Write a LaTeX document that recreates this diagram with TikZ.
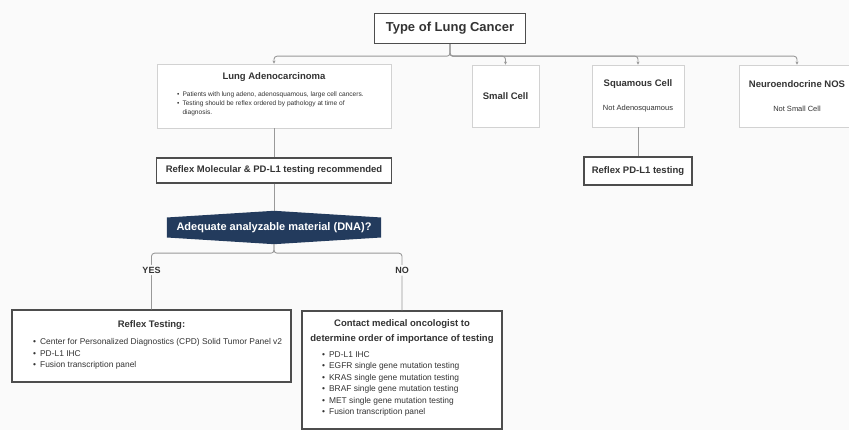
\documentclass[tikz,border=0pt]{standalone}
\usepackage{fontspec}
\setmainfont{Liberation Sans}
\usetikzlibrary{arrows.meta,backgrounds}

\definecolor{inkgray}{HTML}{333333}
\definecolor{linegray}{HTML}{999999}
\definecolor{lightedge}{HTML}{D2D2D2}
\definecolor{darkedge}{HTML}{4D4D4D}
\definecolor{navy}{HTML}{233B5D}
\definecolor{paper}{HTML}{FAFAFA}

\tikzset{
    lightbox/.style={draw=lightedge, fill=white, line width=0.8pt},
    darkbox/.style={draw=darkedge, fill=white, line width=1.4pt},
    title/.style={font=\bfseries\fontsize{9.5}{12}\selectfont, text=inkgray, inner sep=0pt},
    sub/.style={font=\fontsize{7.5}{9}\selectfont, text=inkgray, inner sep=0pt},
    bullets/.style={align=left, text=inkgray, inner sep=0pt, anchor=north west},
    conn/.style={draw=linegray, line width=0.9pt, rounded corners=3pt},
    tick/.style={-{Stealth[length=3pt,width=3pt]}},
    answer/.style={font=\bfseries\fontsize{9}{11}\selectfont, text=inkgray, fill=paper, inner sep=2pt}
}

\begin{document}
\begin{tikzpicture}[x=1pt,y=1pt]
    \useasboundingbox (0,0) rectangle (849,430);

    %Top Box
    \node[darkbox, minimum width=151, minimum height=30, font=\bfseries\fontsize{13}{15}\selectfont, text=inkgray] (type) at (450,401.5) {Type of Lung Cancer};

    %Histology Boxes
    \node[lightbox, minimum width=234, minimum height=64] (adeno) at (274,334) {};
    \node[lightbox, minimum width=67, minimum height=62] (small) at (505.5,334) {};
    \node[lightbox, minimum width=92, minimum height=62] (squam) at (638,334) {};
    \node[lightbox, minimum width=116, minimum height=62] (neuro) at (797,334) {};

    \node[title] (adenot) at (274,353) {Lung Adenocarcinoma};
    \node[bullets, font=\fontsize{6.6}{9}\selectfont] (adenol) at (177,338.5) {\textbullet\hspace{3pt}Patients with lung adeno, adenosquamous, large cell cancers.\\
        \textbullet\hspace{3pt}Testing should be reflex ordered by pathology at time of\\
        \hphantom{\textbullet\hspace{3pt}}diagnosis.};
    \node[title] (smallt) at (small) {Small Cell};
    \node[title] (squamt) at (638,346) {Squamous Cell};
    \node[sub] (squams) at (638,321) {Not Adenosquamous};
    \node[title] (neurot) at (797,346) {Neuroendocrine NOS};
    \node[sub] (neuros) at (797,321) {Not Small Cell};

    %Testing Boxes
    \node[darkbox, title, minimum width=235, minimum height=25] (molec) at (274,259.5) {Reflex Molecular \& PD-L1 testing recommended};
    \node[darkbox, title, minimum width=108, minimum height=28] (reflexpd) at (638,259) {Reflex PD-L1 testing};

    %Question
    \node[title, text=white, font=\bfseries\fontsize{11}{13}\selectfont, minimum width=214, minimum height=33] (dna) at (274,202.5) {Adequate analyzable material (DNA)?};

    %Result Boxes
    \node[darkbox, minimum width=279, minimum height=72] (reflex) at (151.5,84) {};
    \node[title] (reflext) at (151.5,105) {Reflex Testing:};
    \node[bullets, font=\fontsize{8.4}{11.5}\selectfont] (reflexl) at (33,91.5) {\textbullet\hspace{4pt}Center for Personalized Diagnostics (CPD) Solid Tumor Panel v2\\
        \textbullet\hspace{4pt}PD-L1 IHC\\
        \textbullet\hspace{4pt}Fusion transcription panel};

    \node[darkbox, minimum width=200, minimum height=118] (contact) at (402,60) {};
    \node[title, align=center, font=\bfseries\fontsize{9.5}{15}\selectfont] (contactt) at (402,98.5) {Contact medical oncologist to\\determine order of importance of testing};
    \node[bullets, font=\fontsize{8.4}{11.4}\selectfont] (contactl) at (322,78.5) {\textbullet\hspace{4pt}PD-L1 IHC\\
        \textbullet\hspace{4pt}EGFR single gene mutation testing\\
        \textbullet\hspace{4pt}KRAS single gene mutation testing\\
        \textbullet\hspace{4pt}BRAF single gene mutation testing\\
        \textbullet\hspace{4pt}MET single gene mutation testing\\
        \textbullet\hspace{4pt}Fusion transcription panel};

    %Paper and Question Shape
    \begin{scope}[on background layer]
        \fill[paper] (0,0) rectangle (849,430);
        \fill[navy] ([yshift=10]dna.west) -- (dna.north) -- ([yshift=10]dna.east) -- ([yshift=-10]dna.east) -- (dna.south) -- ([yshift=-10]dna.west) -- cycle;
    \end{scope}

    %Connectors
    \draw[conn, tick] (type.south) -- ++(0,-12) -| (adeno.north);
    \draw[conn, tick] (type.south) -- ++(0,-12) -| (small.north);
    \draw[conn, tick] (type.south) -- ++(0,-12) -| (squam.north);
    \draw[conn, tick] (type.south) -- ++(0,-12) -| (neuro.north);
    \draw[conn] (adeno) -- (molec);
    \draw[conn] (molec) -- (dna);
    \draw[conn] (squam) -- (reflexpd);
    \draw[conn] (dna.south) -- ++(0,-9) -| node[answer, pos=0.65] (yes) {YES} (reflex.north);
    \draw[conn] (dna.south) -- ++(0,-9) -| node[answer, pos=0.65] (no) {NO} (contact.north);
\end{tikzpicture}
\end{document}
